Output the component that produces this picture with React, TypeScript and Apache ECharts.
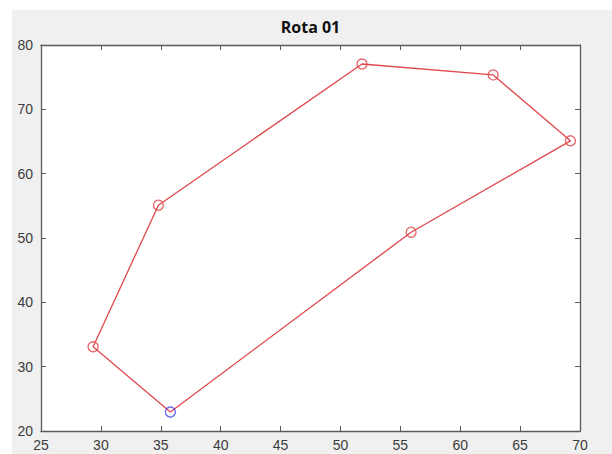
import React, { useEffect, useRef } from "react";
import * as echarts from "echarts";

const routeX = [35.8, 29.35, 34.8, 51.8, 62.75, 69.2, 55.9];
const routeY = [22.95, 33.1, 55.1, 77.05, 75.35, 65.1, 50.9];
const xTicks = [25, 30, 35, 40, 45, 50, 55, 60, 65, 70];
const yTicks = [20, 30, 40, 50, 60, 70, 80];
const titleText = "Rota 01";

const App: React.FC = () => {
  const ref = useRef<HTMLDivElement>(null);
  useEffect(() => {
    if (!ref.current) return;
    const chart = echarts.init(ref.current, undefined, { renderer: "svg" });
    const closed: number[][] = routeX.map((x, i) => [x, routeY[i]]);
    closed.push([routeX[0], routeY[0]]);
    const redPts = routeX.slice(1).map((x, i) => [x, routeY[i + 1]]);
    const startPt = [[routeX[0], routeY[0]]];
    const axisColor = "#5a5a5a";
    const labelStyle = {
      color: "#3c3c3c",
      fontSize: 14,
      fontFamily: "Liberation Sans, Arial, sans-serif",
    };
    const xMin = xTicks[0];
    const xMax = xTicks[xTicks.length - 1];
    const yMin = yTicks[0];
    const yMax = yTicks[yTicks.length - 1];
    const common = {
      axisLine: { show: true, lineStyle: { color: axisColor, width: 1.3 } },
      axisTick: { show: true, inside: true, length: 5, lineStyle: { color: axisColor } },
      splitLine: { show: false },
    };
    chart.setOption({
      animation: false,
      backgroundColor: "transparent",
      graphic: [
        {
          type: "text",
          x: 298.5,
          y: 17,
          style: {
            text: titleText,
            fontSize: 16,
            fontWeight: "bold",
            fontFamily: "Open Sans, Noto Sans, sans-serif",
            fill: "#111",
            textAlign: "center",
            textVerticalAlign: "middle",
          },
        },
      ],
      grid: {
        left: 29,
        top: 35,
        width: 539,
        height: 386,
        show: true,
        backgroundColor: "#ffffff",
        borderWidth: 0,
      },
      xAxis: [
        {
          type: "value",
          min: xMin,
          max: xMax,
          interval: 5,
          position: "bottom",
          ...common,
          axisLabel: { ...labelStyle, margin: 7 },
        },
        {
          type: "value",
          min: xMin,
          max: xMax,
          interval: 5,
          position: "top",
          ...common,
          axisLabel: { show: false },
        },
      ],
      yAxis: [
        {
          type: "value",
          min: yMin,
          max: yMax,
          interval: 10,
          position: "left",
          ...common,
          axisLabel: { ...labelStyle, margin: 8 },
        },
        {
          type: "value",
          min: yMin,
          max: yMax,
          interval: 10,
          position: "right",
          ...common,
          axisLabel: { show: false },
        },
      ],
      series: [
        {
          type: "line",
          data: closed,
          showSymbol: false,
          symbol: "none",
          lineStyle: { color: "#e0474c", width: 1.3 },
          z: 2,
        },
        {
          type: "scatter",
          data: redPts,
          symbol: "circle",
          symbolSize: 10,
          itemStyle: { color: "transparent", borderColor: "#e0474c", borderWidth: 1.4 },
          z: 3,
        },
        {
          type: "scatter",
          data: startPt,
          symbol: "circle",
          symbolSize: 10,
          itemStyle: { color: "transparent", borderColor: "#4a4ae0", borderWidth: 1.4 },
          z: 4,
        },
      ],
    });
    return () => chart.dispose();
  }, []);
  return (
    <div
      style={{
        position: "absolute",
        left: 0,
        top: 0,
        width: 612,
        height: 454,
        background: "#ffffff",
      }}
    >
      <div
        ref={ref}
        style={{
          position: "absolute",
          left: 12,
          top: 10,
          width: 600,
          height: 444,
          background: "#f0f0f0",
        }}
      />
    </div>
  );
};

export default App;
